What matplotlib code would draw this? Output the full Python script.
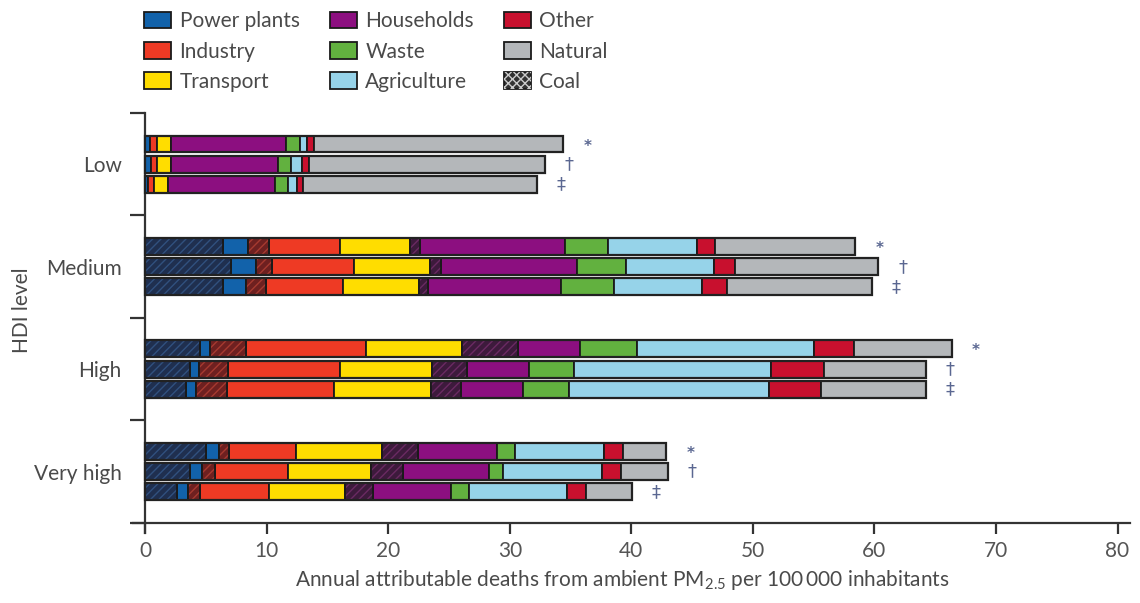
import matplotlib
matplotlib.use("Agg")
import matplotlib.pyplot as plt
from matplotlib.patches import Patch
import numpy as np

plt.rcParams['font.family'] = ['Lato', 'DejaVu Sans']
plt.rcParams['mathtext.default'] = 'regular'
plt.rcParams['hatch.linewidth'] = 1.0

# ---------------- data ----------------
groups = ['Low', 'Medium', 'High', 'Very high']
scenario_marks = ['*', '\u2020', '\u2021']
xticks = [0, 10, 20, 30, 40, 50, 60, 70, 80]

# 12 bars: Low(*,†,‡), Medium(*,†,‡), High(*,†,‡), Very high(*,†,‡)
coal_power      = [0, 0, 0, 6.40, 7.09, 6.40, 4.49, 3.66, 3.39, 4.98, 3.72, 2.62]
power_plants    = [0.37, 0.51, 0.27, 2.06, 2.06, 1.93, 0.82, 0.77, 0.77, 1.09, 0.99, 0.90]
coal_industry   = [0, 0, 0, 1.73, 1.32, 1.59, 3.02, 2.38, 2.57, 0.83, 1.01, 1.02]
industry        = [0.62, 0.48, 0.45, 5.82, 6.69, 6.38, 9.80, 9.20, 8.83, 5.54, 6.03, 5.61]
transport       = [1.13, 1.13, 1.20, 5.82, 6.31, 6.23, 7.96, 7.55, 7.95, 7.03, 6.79, 6.31]
coal_households = [0, 0, 0, 0.76, 0.91, 0.75, 4.59, 2.88, 2.51, 2.98, 2.68, 2.29]
households      = [9.50, 8.77, 8.78, 11.98, 11.16, 10.93, 5.11, 5.11, 5.07, 6.50, 7.08, 6.45]
waste           = [1.10, 1.14, 1.09, 3.52, 4.05, 4.37, 4.70, 3.76, 3.78, 1.46, 1.15, 1.43]
agriculture     = [0.63, 0.89, 0.68, 7.34, 7.20, 7.26, 14.55, 16.19, 16.43, 7.33, 8.16, 8.10]
other           = [0.56, 0.52, 0.55, 1.44, 1.77, 2.00, 3.31, 4.32, 4.31, 1.56, 1.51, 1.55]
natural         = [20.48, 19.44, 19.23, 11.53, 11.75, 11.93, 8.00, 8.42, 8.63, 3.54, 3.91, 3.74]

# ---------------- style ----------------
C_POWER = '#1262aa'
C_IND = '#ee3a24'
C_TRANS = '#ffdd00'
C_HH = '#8c0f80'
C_WASTE = '#62b13f'
C_AGRI = '#96d3e9'
C_OTHER = '#c8102e'
C_NAT = '#b4b7ba'
TXT = '#4a4a4a'

# (values, face colour, hatch colour or None)
segments = [
    (coal_power, '#1f2f4f', '#31507e'),
    (power_plants, C_POWER, None),
    (coal_industry, '#6e2020', '#a63a30'),
    (industry, C_IND, None),
    (transport, C_TRANS, None),
    (coal_households, '#3d1a3c', '#6a2a62'),
    (households, C_HH, None),
    (waste, C_WASTE, None),
    (agriculture, C_AGRI, None),
    (other, C_OTHER, None),
    (natural, C_NAT, None),
]

W, H = 1140, 603
fig = plt.figure(figsize=(W / 100, H / 100), dpi=100)
ax = fig.add_axes([133 / W, 1 - 533 / H, (1129.7 - 133) / W, 420 / H])

n_groups = len(groups)
n_sc = len(scenario_marks)
ypos = np.array([g + (s - 1) * 0.197 for g in range(n_groups) for s in range(n_sc)])
bar_h = 0.165

left = np.zeros(len(ypos))
for vals, face, hcol in segments:
    v = np.array(vals, dtype=float)
    m = v > 0
    if hcol is None:
        ax.barh(ypos[m], v[m], left=left[m], height=bar_h, color=face,
                edgecolor='#1a1a1a', linewidth=1.3, zorder=3)
    else:
        ax.barh(ypos[m], v[m], left=left[m], height=bar_h, color=face,
                linewidth=0, zorder=3)
        ax.barh(ypos[m], v[m], left=left[m], height=bar_h, facecolor='none',
                edgecolor=hcol, hatch='////', linewidth=0, zorder=3.1)
        ax.barh(ypos[m], v[m], left=left[m], height=bar_h, facecolor='none',
                edgecolor='#1a1a1a', linewidth=1.3, zorder=3.2)
    left = left + v

# outline of entire bars
ax.barh(ypos, left, height=bar_h, facecolor='none', edgecolor='#222222',
        linewidth=1.6, zorder=4)

# scenario marks
for k, (y, tot) in enumerate(zip(ypos, left)):
    mark = scenario_marks[k % n_sc]
    ax.text(tot + 2.0, y + (0.02 if mark == '*' else 0.0), mark,
            color='#5a6791', fontsize=13 if mark != '*' else 11,
            fontweight='bold' if mark == '*' else 'normal',
            ha='center', va='center', family=['DejaVu Sans'], zorder=5)

ax.set_xlim(-1, 81)
ax.set_ylim(3.6, -0.5)
for s in ['top', 'right']:
    ax.spines[s].set_visible(False)
ax.spines['left'].set_position(('data', 0))
ax.spines['bottom'].set_position(('data', 3.5))
for s in ['left', 'bottom']:
    ax.spines[s].set_linewidth(1.6)
    ax.spines[s].set_color('#333333')

ax.set_xticks(xticks)
ax.set_xticklabels([str(t) for t in xticks])
ax.tick_params(axis='x', direction='out', length=8, width=1.6, color='#333333',
               labelsize=15, labelcolor='#555555', pad=5)

ax.set_yticks([-0.5, 0.5, 1.5, 2.5, 3.5])
ax.set_yticklabels([''] * 5)
ax.tick_params(axis='y', which='major', direction='out', length=11, width=1.6,
               color='#333333')
ax.set_yticks(range(n_groups), minor=True)
ax.set_yticklabels(groups, minor=True)
ax.tick_params(axis='y', which='minor', length=0, pad=17, labelsize=15,
               labelcolor=TXT)

fig.text(22 / W, 1 - 310 / H, 'HDI level', rotation=90, ha='center', va='center',
         fontsize=15, color=TXT)
fig.text(622 / W, 1 - 580 / H,
         'Annual attributable deaths from ambient PM$_{2.5}$ per 100\u2009000 inhabitants',
         ha='center', va='center', fontsize=15, color=TXT,
         family=['Lato', 'DejaVu Sans'])

# legend
handles = [
    Patch(facecolor=C_POWER, edgecolor='#1a1a1a', linewidth=1.3),
    Patch(facecolor=C_IND, edgecolor='#1a1a1a', linewidth=1.3),
    Patch(facecolor=C_TRANS, edgecolor='#1a1a1a', linewidth=1.3),
    Patch(facecolor=C_HH, edgecolor='#1a1a1a', linewidth=1.3),
    Patch(facecolor=C_WASTE, edgecolor='#1a1a1a', linewidth=1.3),
    Patch(facecolor=C_AGRI, edgecolor='#1a1a1a', linewidth=1.3),
    Patch(facecolor=C_OTHER, edgecolor='#1a1a1a', linewidth=1.3),
    Patch(facecolor=C_NAT, edgecolor='#1a1a1a', linewidth=1.3),
    (Patch(facecolor='#333333', edgecolor='#1a1a1a', linewidth=1.3),
     Patch(facecolor='none', edgecolor='#cccccc', hatch='xxxx', linewidth=0)),
]
labels = ['Power plants', 'Industry', 'Transport', 'Households', 'Waste',
          'Agriculture', 'Other', 'Natural', 'Coal']
fig.legend(handles, labels, ncol=3, loc='upper left',
           bbox_to_anchor=(140 / W, 1 - 7 / H), frameon=False, fontsize=15,
           handlelength=1.3, handleheight=0.85, handletextpad=0.4,
           labelspacing=0.5, columnspacing=1.45, labelcolor=TXT,
           borderaxespad=0, borderpad=0.2)

fig.savefig('out.png', dpi=100)
